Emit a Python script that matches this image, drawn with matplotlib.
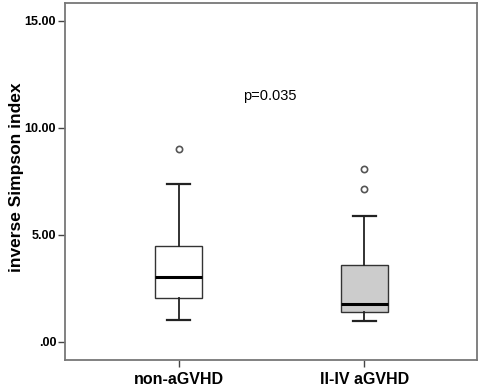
import matplotlib.pyplot as plt

plt.rcParams['font.family'] = ['Liberation Sans', 'DejaVu Sans']

# Box statistics
groups = ['non-aGVHD', 'II-IV aGVHD']
whisker_low = [1.01, 1.00]
q1 = [2.03, 1.39]
median = [3.04, 1.78]
q3 = [4.46, 3.58]
whisker_high = [7.36, 5.87]
outliers = [[9.0], [8.10, 7.14]]
box_colors = ['white', '#cccccc']
yticks = [0, 5, 10, 15]
ytick_labels = ['.00', '5.00', '10.00', '15.00']
p_text = 'p=0.035'

stats = []
for i, g in enumerate(groups):
    stats.append({'label': g, 'whislo': whisker_low[i], 'q1': q1[i], 'med': median[i],
                  'q3': q3[i], 'whishi': whisker_high[i], 'fliers': outliers[i]})

fig = plt.figure(figsize=(4.82, 3.92), dpi=100)
ax = fig.add_axes([64.5 / 482, 1 - 359.5 / 392, (477 - 64.5) / 482, (359.5 - 3) / 392])

bp = ax.bxp(stats, positions=[1, 2], widths=0.25, patch_artist=True,
            boxprops=dict(edgecolor='#333333', linewidth=1.0),
            medianprops=dict(color='black', linewidth=2.2),
            whiskerprops=dict(color='#222222', linewidth=1.3),
            capprops=dict(color='#222222', linewidth=1.6),
            flierprops=dict(marker='o', markersize=4.5, markerfacecolor='white',
                            markeredgecolor='#555555', markeredgewidth=1.2))
for patch, c in zip(bp['boxes'], box_colors):
    patch.set_facecolor(c)

ax.set_xlim(0.387, 2.605)
ax.set_ylim(-0.82, 15.83)
ax.set_yticks(yticks)
ax.set_yticklabels(ytick_labels)
ax.set_xticks([1, 2])
ax.set_xticklabels(groups)

for s in ax.spines.values():
    s.set_color('#777777')
    s.set_linewidth(1.3)
ax.tick_params(axis='both', direction='out', length=5, width=1.0, color='#444444')
ax.tick_params(axis='y', labelsize=9, pad=1)
ax.tick_params(axis='x', labelsize=11.5, pad=4)
for lab in ax.get_xticklabels() + ax.get_yticklabels():
    lab.set_fontweight('bold')

ax.set_ylabel('inverse Simpson index', fontsize=12.5, fontweight='bold')
ax.yaxis.set_label_coords(-0.098, 0.512)
ax.text(1.49, 11.5, p_text, fontsize=10.5, ha='center', va='center')

fig.savefig('out.png', dpi=100)
